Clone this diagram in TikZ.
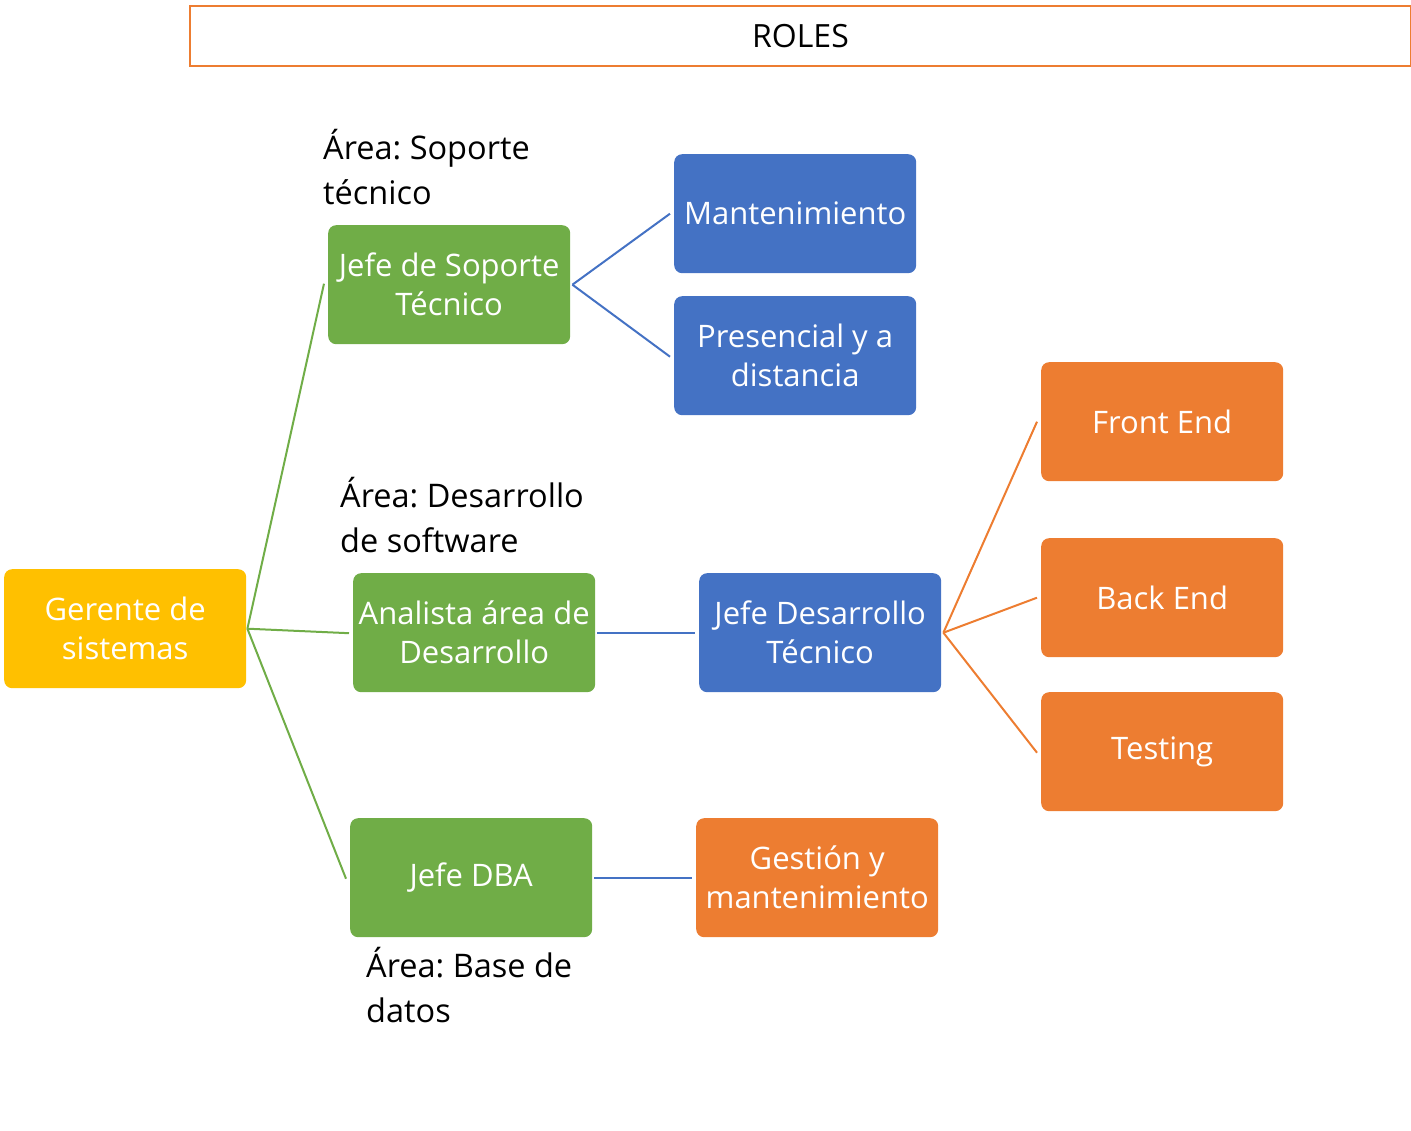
\documentclass[tikz,border=0pt]{standalone}
\usepackage{fontspec}
\setmainfont{Open Sans}
\frenchspacing
\definecolor{cyellow}{HTML}{FFC000}
\definecolor{cgreen}{HTML}{70AD47}
\definecolor{cblue}{HTML}{4472C4}
\definecolor{corange}{HTML}{ED7D31}
\begin{document}
\begin{tikzpicture}[x=1pt,y=-1pt,
  boxs/.style={rounded corners=8pt,minimum width=242pt,minimum height=119pt,inner sep=2pt,
    text=white,align=center,font=\fontsize{31}{39}\selectfont,anchor=north west},
  yel/.style={boxs,fill=cyellow},
  grn/.style={boxs,fill=cgreen},
  blu/.style={boxs,fill=cblue},
  org/.style={boxs,fill=corange},
  area/.style={anchor=north west,align=left,inner sep=0pt,font=\fontsize{32.5}{45}\selectfont,text=black},
  lg/.style={draw=cgreen,line width=2pt},
  lb/.style={draw=cblue,line width=2pt},
  lo/.style={draw=corange,line width=2pt}]
\useasboundingbox (0,0) rectangle (1411,1131);
\node[draw=corange,line width=2pt,minimum width=1221pt,minimum height=60pt,anchor=north west,inner sep=0pt,font=\fontsize{32}{37}\selectfont] (roles) at (189,5) {ROLES};
\node[yel] (ger) at (4,569) {Gerente de\\sistemas};
\node[grn] (jst) at (328,225) {Jefe de Soporte\\Técnico};
\node[grn] (ana) at (353,573) {Analista área de\\Desarrollo};
\node[grn] (dba) at (350,818) {Jefe DBA};
\node[blu] (man) at (674,154) {Mantenimiento};
\node[blu] (pre) at (674,296) {Presencial y a\\distancia};
\node[blu] (jdt) at (699,573) {Jefe Desarrollo\\Técnico};
\node[org] (ges) at (696,818) {Gestión y\\mantenimiento};
\node[org] (fe) at (1041,362) {Front End};
\node[org] (be) at (1041,538) {Back End};
\node[org] (te) at (1041,692) {Testing};
\node[area] (a1) at (323,129) {Área: Soporte\\técnico};
\node[area] (a2) at (340,477) {Área: Desarrollo\\de software};
\node[area] (a3) at (366,947) {Área: Base de\\datos};
\coordinate (g0) at ([xshift=1pt]ger.east);
\coordinate (g1) at ([xshift=-4pt,yshift=1pt]jst.west);
\coordinate (g2) at ([xshift=-4pt,yshift=-0.5pt]ana.west);
\coordinate (g3) at ([xshift=-4pt,yshift=-1pt]dba.west);
\draw[lg] (g0) -- (g1);
\draw[lg] (g0) -- (g2);
\draw[lg] (g0) -- (g3);
\coordinate (s0) at ([xshift=2pt]jst.east);
\draw[lb] (s0) -- ([xshift=-4pt]man.west);
\draw[lb] (s0) -- ([xshift=-4pt,yshift=-1pt]pre.west);
\draw[lb] ([xshift=2pt]ana.east) -- ([xshift=-4pt]jdt.west);
\draw[lb] ([xshift=2pt]dba.east) -- ([xshift=-4pt]ges.west);
\coordinate (d0) at ([xshift=2pt]jdt.east);
\draw[lo] (d0) -- ([xshift=-4pt]fe.west);
\draw[lo] (d0) -- ([xshift=-4pt]be.west);
\draw[lo] (d0) -- ([xshift=-4pt,yshift=-1pt]te.west);
\end{tikzpicture}
\end{document}
